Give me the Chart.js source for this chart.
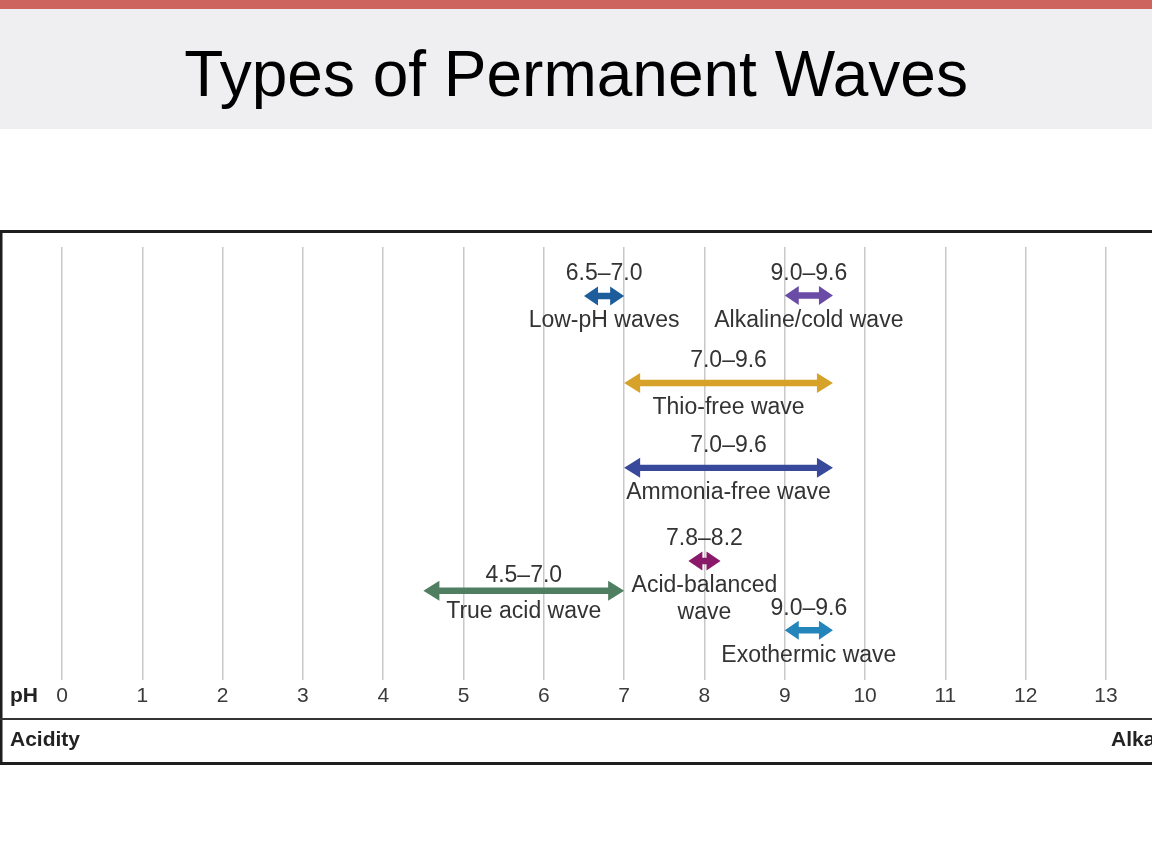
<!DOCTYPE html>
<html>
<head>
<meta charset="utf-8">
<title>Types of Permanent Waves</title>
<script src="https://cdn.jsdelivr.net/npm/chart.js@4.4.0/dist/chart.umd.min.js"></script>
<style>
  html, body { margin: 0; padding: 0; background: #fff; }
  body { width: 1152px; height: 864px; position: relative; overflow: hidden; font-family: "Liberation Sans", Arial, sans-serif; }
  .topbar { position: absolute; left: 0; top: 0; width: 1152px; height: 9px; background: #cd645d; }
  .header { position: absolute; left: 0; top: 9px; width: 1152px; height: 120px; background: #efeff1; }
  .header h1 { margin: 0; position: absolute; left: 0; width: 100%; top: 33px; text-align: center; font-weight: normal; font-size: 64px; line-height: 64px; color: #000; }
  #wrap { position: absolute; left: 0; top: 228px; width: 1152px; height: 540px; }
</style>
</head>
<body>
<div class="topbar"></div>
<div class="header"><h1>Types of Permanent Waves</h1></div>
<div id="wrap"><canvas id="ph-chart" width="1152" height="540"></canvas></div>

<script>
// pH axis
const phTicks = [0, 1, 2, 3, 4, 5, 6, 7, 8, 9, 10, 11, 12, 13];

// each wave type and its pH range
const waveNames = ['Low-pH waves', 'Alkaline/cold wave', 'Thio-free wave', 'Ammonia-free wave', 'Acid-balanced\nwave', 'True acid wave', 'Exothermic wave'];
const phLow  = [6.5, 9.0, 7.0, 7.0, 7.8, 4.5, 9.0];
const phHigh = [7.0, 9.6, 9.6, 9.6, 8.2, 7.0, 9.6];
// row the arrow sits on (0 = top of the plot, 10 = bottom)
const lanes = [1.13, 1.12, 3.14, 5.1, 7.25, 7.94, 8.85];

const waveColors = ['#1d5d9b', '#6a4ba6', '#d7a229', '#38489b', '#8a1a69', '#4f7e61', '#2385b9'];

const FONT = '"Liberation Sans", Arial, sans-serif';

const datasets = waveNames.map((name, i) => ({
    label: name,
    data: [{x: phLow[i], y: lanes[i]}, {x: phHigh[i], y: lanes[i]}],
    borderColor: waveColors[i],
    backgroundColor: waveColors[i],
    showLine: false,
    pointRadius: 0,
    pointHoverRadius: 0
}));
// the true acid labels hug the arrow
datasets[5].labelAbove = 15;
datasets[5].labelBelow = 21;

// double headed arrows + their labels, placed from the scale positions
const arrowPlugin = {
    id: 'arrows',
    afterDatasetsDraw(chart) {
        const ctx = chart.ctx;
        chart.data.datasets.forEach((ds, i) => {
            const pts = chart.getDatasetMeta(i).data;
            const x1 = pts[0].x, x2 = pts[1].x, y = pts[0].y;
            const small = (x2 - x1) < 60;
            const L = small ? 14 : 16;
            const H = small ? 9.5 : 10;
            const S = 3.2;

            ctx.save();
            ctx.fillStyle = ds.borderColor;
            ctx.beginPath();
            ctx.moveTo(x1, y);
            ctx.lineTo(x1 + L, y - H);
            ctx.lineTo(x1 + L, y - S);
            ctx.lineTo(x2 - L, y - S);
            ctx.lineTo(x2 - L, y - H);
            ctx.lineTo(x2, y);
            ctx.lineTo(x2 - L, y + H);
            ctx.lineTo(x2 - L, y + S);
            ctx.lineTo(x1 + L, y + S);
            ctx.lineTo(x1 + L, y + H);
            ctx.closePath();
            ctx.fill();

            const mid = (x1 + x2) / 2;
            const lo = ds.data[0].x, hi = ds.data[1].x;
            ctx.fillStyle = '#333';
            ctx.font = '23px ' + FONT;
            ctx.textAlign = 'center';
            ctx.textBaseline = 'middle';
            ctx.fillText(lo.toFixed(1) + '\u2013' + hi.toFixed(1), mid, y - (ds.labelAbove || 22));
            ds.label.split('\n').forEach((line, k) => {
                ctx.fillText(line, mid, y + (ds.labelBelow || 25) + k * 27);
            });
            ctx.restore();
        });
    }
};

// box around the scale, with the pH / Acidity row
const framePlugin = {
    id: 'frame',
    afterDraw(chart) {
        const ctx = chart.ctx;
        const w = chart.width;
        ctx.save();
        ctx.fillStyle = '#1e1e1e';
        ctx.fillRect(0, 2, w, 3);
        ctx.fillRect(0, 534, w, 3);
        ctx.fillRect(0, 2, 2.5, 535);
        ctx.fillStyle = '#333';
        ctx.fillRect(0, 490, w, 2);

        ctx.fillStyle = '#222';
        ctx.font = 'bold 21px ' + FONT;
        ctx.textAlign = 'left';
        ctx.textBaseline = 'middle';
        ctx.fillText('pH', 10, 468);
        ctx.fillText('Acidity', 10, 512);
        ctx.fillText('Alkalinity', 1111, 512);
        ctx.restore();
    }
};

const config = {
    type: 'scatter',
    data: { datasets: datasets },
    options: {
        responsive: false,
        animation: false,
        events: [],
        layout: { padding: { top: 19, bottom: 0, left: 0, right: 0 } },
        plugins: {
            legend: { display: false },
            tooltip: { enabled: false }
        },
        scales: {
            x: {
                type: 'linear',
                min: -0.772,
                max: 13.573,
                afterBuildTicks: axis => { axis.ticks = phTicks.map(v => ({value: v})); },
                afterFit: axis => { axis.height = 88; },
                grid: { color: '#c8c8c8', lineWidth: 1.5, drawTicks: false },
                border: { display: false },
                ticks: {
                    padding: 4,
                    color: '#3a3a3a',
                    font: { family: FONT, size: 21 },
                    maxRotation: 0,
                    autoSkip: false
                }
            },
            y: {
                type: 'linear',
                display: false,
                reverse: true,
                min: 0,
                max: 10
            }
        }
    },
    plugins: [arrowPlugin, framePlugin]
};

const phChart = new Chart(document.getElementById('ph-chart'), config);
</script>
</body>
</html>
